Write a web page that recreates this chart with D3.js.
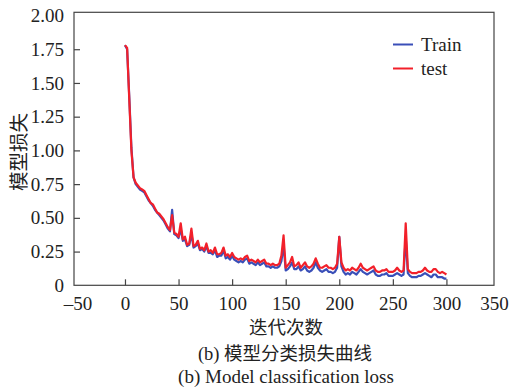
<!DOCTYPE html>
<html>
<head>
<meta charset="utf-8">
<script src="https://cdnjs.cloudflare.com/ajax/libs/d3/7.8.5/d3.min.js"></script>
<style>
  body { margin: 0; background: #fff; }
  svg text { font-family: "Liberation Serif", "Times New Roman", serif; fill: #222; }
  .cjk { font-family: "Noto Sans CJK SC", sans-serif; }
</style>
</head>
<body>
<script>
var w = 510;
var h = 391;

// epochs 0,2,...,300
var epochs = d3.range(0, 301, 2);

var trainLoss = [
  1.78, 1.75, 1.40, 1.02, 0.80, 0.75, 0.73, 0.71, 0.70, 0.69,
  0.66, 0.63, 0.61, 0.59, 0.56, 0.54, 0.52, 0.50, 0.48, 0.45,
  0.42, 0.40, 0.56, 0.38, 0.37, 0.35, 0.42, 0.33, 0.34, 0.29,
  0.30, 0.38, 0.28, 0.29, 0.31, 0.26, 0.27, 0.25, 0.29, 0.24,
  0.24, 0.23, 0.26, 0.21, 0.22, 0.22, 0.26, 0.20, 0.21, 0.19,
  0.22, 0.19, 0.18, 0.17, 0.18, 0.17, 0.19, 0.20, 0.16, 0.17,
  0.16, 0.15, 0.17, 0.15, 0.16, 0.17, 0.14, 0.14, 0.13, 0.14,
  0.13, 0.13, 0.14, 0.18, 0.30, 0.11, 0.12, 0.14, 0.17, 0.12,
  0.12, 0.14, 0.11, 0.12, 0.14, 0.11, 0.10, 0.11, 0.13, 0.17,
  0.13, 0.11, 0.10, 0.11, 0.12, 0.10, 0.10, 0.09, 0.10, 0.13,
  0.36, 0.14, 0.10, 0.08, 0.09, 0.08, 0.10, 0.09, 0.08, 0.10,
  0.12, 0.10, 0.09, 0.08, 0.09, 0.10, 0.11, 0.08, 0.07, 0.07,
  0.08, 0.08, 0.09, 0.07, 0.07, 0.07, 0.08, 0.09, 0.08, 0.07,
  0.08, 0.36, 0.09, 0.07, 0.06, 0.06, 0.06, 0.07, 0.07, 0.08,
  0.09, 0.08, 0.07, 0.06, 0.08, 0.08, 0.06, 0.06, 0.06, 0.05,
  0.05
];

var testLoss = [
  1.78, 1.76, 1.38, 1.00, 0.80, 0.76, 0.74, 0.72, 0.71, 0.70,
  0.67, 0.64, 0.61, 0.60, 0.57, 0.54, 0.53, 0.51, 0.49, 0.46,
  0.43, 0.41, 0.52, 0.39, 0.38, 0.36, 0.46, 0.34, 0.36, 0.30,
  0.31, 0.42, 0.29, 0.30, 0.33, 0.27, 0.28, 0.26, 0.31, 0.25,
  0.26, 0.24, 0.28, 0.23, 0.23, 0.24, 0.28, 0.22, 0.23, 0.21,
  0.24, 0.21, 0.20, 0.19, 0.20, 0.19, 0.21, 0.22, 0.18, 0.19,
  0.18, 0.17, 0.19, 0.17, 0.18, 0.19, 0.16, 0.16, 0.15, 0.16,
  0.15, 0.15, 0.16, 0.22, 0.37, 0.13, 0.15, 0.17, 0.21, 0.14,
  0.15, 0.17, 0.13, 0.15, 0.17, 0.14, 0.13, 0.14, 0.16, 0.20,
  0.16, 0.13, 0.13, 0.14, 0.15, 0.13, 0.13, 0.12, 0.13, 0.16,
  0.36, 0.17, 0.13, 0.11, 0.12, 0.11, 0.13, 0.12, 0.11, 0.13,
  0.16, 0.13, 0.12, 0.11, 0.12, 0.13, 0.14, 0.11, 0.10, 0.10,
  0.11, 0.11, 0.12, 0.10, 0.10, 0.10, 0.11, 0.13, 0.11, 0.10,
  0.11, 0.46, 0.12, 0.10, 0.09, 0.09, 0.09, 0.10, 0.10, 0.11,
  0.13, 0.11, 0.10, 0.10, 0.12, 0.12, 0.10, 0.09, 0.10, 0.09,
  0.08
];

var xTicks = [-50, 0, 50, 100, 150, 200, 250, 300, 350];
var yTicks = [0, 0.25, 0.5, 0.75, 1.0, 1.25, 1.5, 1.75, 2.0];

var seriesNames = ["Train", "test"];
var seriesColors = ["#3a4fb8", "#f2202a"];

// frame box (plain "top" is window.top, so use other names)
var boxL = 74, boxR = 494, boxT = 12.3, boxB = 285.3;

var svg = d3.select("body")
  .append("svg")
  .attr("width", w)
  .attr("height", h);

svg.append("rect")
  .attr("width", w)
  .attr("height", h)
  .attr("fill", "#fff");

var x = d3.scaleLinear().domain([-50, 350]).range([71.4, 500]);
var y = d3.scaleLinear().domain([0, 2]).range([boxB, 15.5]);

//lines
var line = d3.line()
  .x(function(d, i) { return x(epochs[i]); })
  .y(function(d) { return y(d); });

[trainLoss, testLoss].forEach(function(s, k) {
  svg.append("path")
    .datum(s)
    .attr("d", line)
    .attr("fill", "none")
    .attr("stroke", seriesColors[k])
    .attr("stroke-width", 2.2)
    .attr("stroke-linejoin", "round");
});

//frame
svg.append("rect")
  .attr("x", boxL)
  .attr("y", boxT)
  .attr("width", boxR - boxL)
  .attr("height", boxB - boxT)
  .attr("fill", "none")
  .attr("stroke", "#444")
  .attr("stroke-width", 1.2);

//x axis
var gx = svg.append("g")
  .attr("transform", "translate(0," + boxB + ")")
  .call(d3.axisBottom(x)
    .tickValues(xTicks)
    .tickSize(-6)
    .tickPadding(11)
    .tickFormat(function(d) { return d < 0 ? "\u2013" + Math.abs(d) : d; }));
gx.select(".domain").remove();
gx.selectAll(".tick line").attr("stroke", "#444").attr("stroke-width", 1.2);
gx.selectAll(".tick line")
  .filter(function(d) { return d < 0 || d > 300; }).remove();
gx.selectAll(".tick text").attr("font-size", 19).attr("font-family", "Liberation Serif").attr("fill", "#222")
  .attr("dx", function(d) { return d < 0 ? 6 : (d > 300 ? -6 : 0); });

//y axis
var gy = svg.append("g")
  .attr("transform", "translate(" + boxL + ",0)")
  .call(d3.axisLeft(y)
    .tickValues(yTicks)
    .tickSize(-6)
    .tickPadding(10)
    .tickFormat(function(d) { return d === 0 ? "0" : d3.format(".2f")(d); }));
gy.select(".domain").remove();
gy.selectAll(".tick line").attr("stroke", "#444").attr("stroke-width", 1.2);
gy.selectAll(".tick line")
  .filter(function(d) { return d === 0 || d === 2; }).remove();
gy.selectAll(".tick text").attr("font-size", 19).attr("font-family", "Liberation Serif").attr("fill", "#222");

//legend
seriesNames.forEach(function(name, k) {
  var ly = 44.5 + k * 24;
  svg.append("line")
    .attr("x1", 393).attr("x2", 413)
    .attr("y1", ly).attr("y2", ly)
    .attr("stroke", seriesColors[k])
    .attr("stroke-width", 2);
  svg.append("text")
    .attr("x", 421).attr("y", ly + 6.5)
    .attr("font-size", 19)
    .text(name);
});

//titles
svg.append("text")
  .attr("class", "cjk")
  .attr("transform", "translate(26,152) rotate(-90)")
  .attr("text-anchor", "middle")
  .attr("font-size", 19.5)
  .text("模型损失");

svg.append("text")
  .attr("class", "cjk")
  .attr("x", 286).attr("y", 334)
  .attr("text-anchor", "middle")
  .attr("font-size", 18.5)
  .text("迭代次数");

var cap1 = svg.append("text")
  .attr("x", 285).attr("y", 360)
  .attr("text-anchor", "middle")
  .attr("font-size", 18.5);
cap1.append("tspan").text("(b) ");
cap1.append("tspan").attr("class", "cjk").attr("font-size", 18.5).text("模型分类损失曲线");

svg.append("text")
  .attr("x", 286).attr("y", 383)
  .attr("text-anchor", "middle")
  .attr("font-size", 19)
  .text("(b) Model classification loss");
</script>
</body>
</html>
